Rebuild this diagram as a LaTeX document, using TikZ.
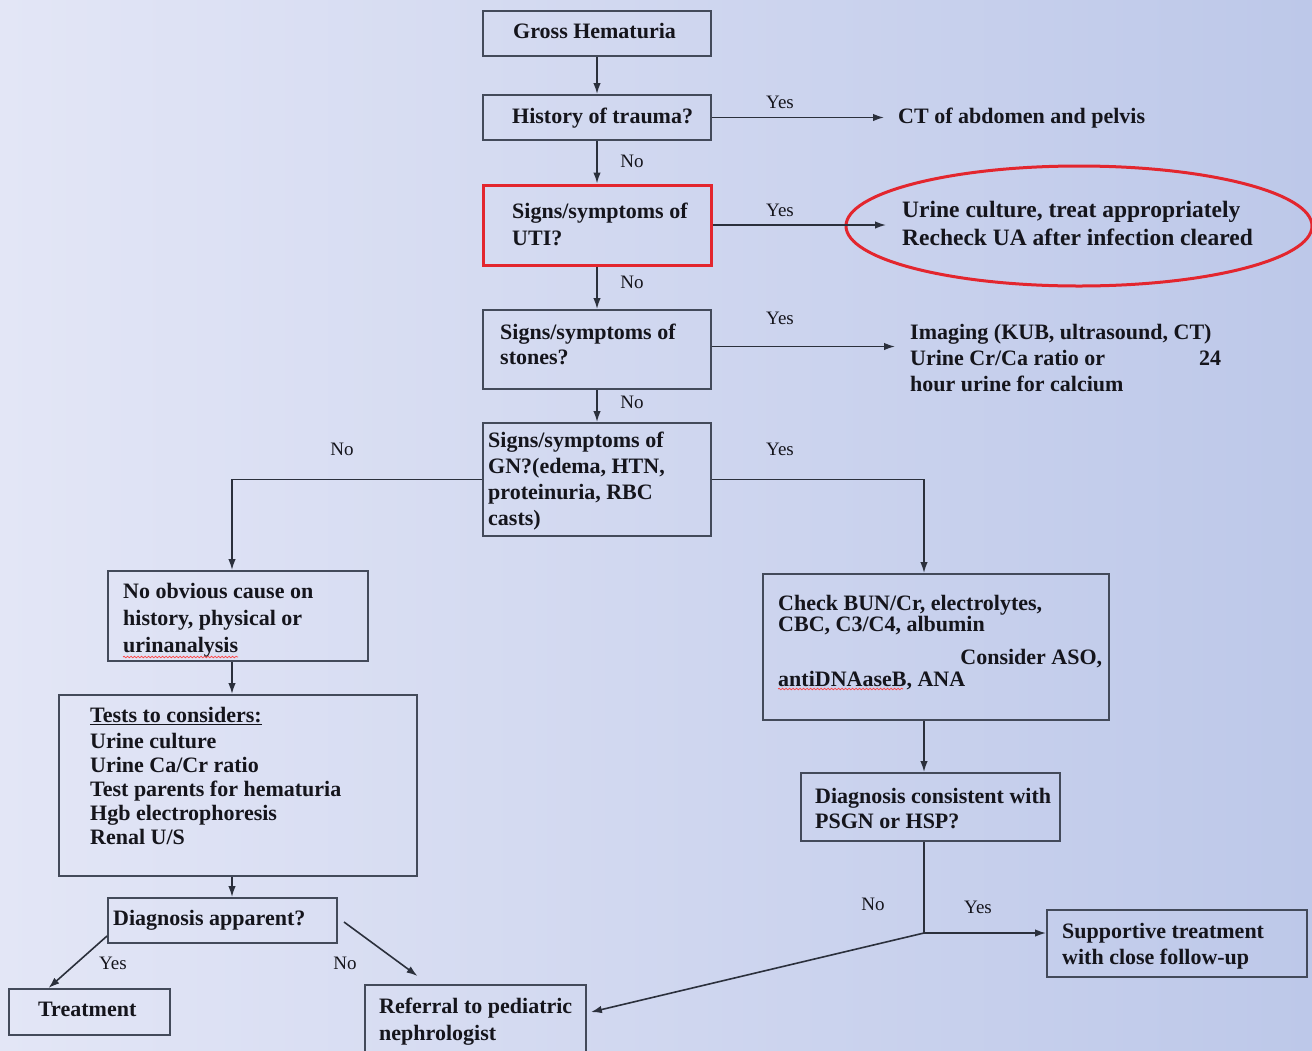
\documentclass[tikz,border=0pt]{standalone}
\usepackage{fontspec}
\setmainfont{Liberation Serif}
\usetikzlibrary{arrows.meta,shapes.geometric,fit,decorations.pathmorphing}
\definecolor{boxc}{HTML}{434A5A}
\definecolor{arrc}{HTML}{2B303C}
\definecolor{textc}{HTML}{15151C}
\definecolor{redc}{HTML}{E3262E}
\definecolor{bgl}{HTML}{E3E6F6}
\definecolor{bgr}{HTML}{BDC8E9}
\newcommand\bfs[1]{\fontsize{22}{#1}\selectfont\bfseries}
\begin{document}
\begin{tikzpicture}[x=1pt,y=-1pt,
  box/.style={draw=boxc, line width=2pt, inner sep=0pt},
  redbox/.style={draw=redc, line width=3pt, inner sep=0pt},
  txt/.style={anchor=north west, inner sep=0pt, font=\bfs{26}, text=textc, align=left},
  lbl/.style={font=\fontsize{19}{22}\selectfont, text=textc, inner sep=0pt},
  arr/.style={draw=arrc, line width=1.6pt, -{Latex[length=11pt,width=7.5pt]}},
  ln/.style={draw=arrc, line width=1.6pt},
  wavy/.style={draw=red!75, line width=0.7pt, decorate, decoration={snake, amplitude=0.8pt, segment length=3.5pt}}
]
\useasboundingbox (0,0) rectangle (1312,1050);
\shade[left color=bgl, right color=bgr] (0,0) rectangle (1312,1050);

% boxes
\node[box, fit={(483,11) (711,56)}] (gross) {};
\node[box, fit={(483,95) (711,140)}] (hist) {};
\node[redbox, fit={(483,185) (711,265)}] (uti) {};
\node[box, fit={(483,310) (711,389)}] (stones) {};
\node[box, fit={(483,423) (711,536)}] (gn) {};
\node[box, fit={(108,571) (368,661)}] (noobv) {};
\node[box, fit={(59,695) (417,876)}] (tests) {};
\node[box, fit={(108,898) (337,943)}] (diagA) {};
\node[box, fit={(9,989) (170,1035)}] (treat) {};
\node[box, fit={(365,985) (586,1056)}] (ref) {};
\node[box, fit={(763,574) (1109,720)}] (bun) {};
\node[box, fit={(801,773) (1060,841)}] (diagc) {};
\node[box, fit={(1047,910) (1307,977)}] (supp) {};
\node[draw=redc, line width=3pt, ellipse, minimum width=466pt, minimum height=120pt, inner sep=0pt] (uell) at (1079,226) {};

% texts
\node[txt] (tgross) at (513,23) {Gross Hematuria};
\node[txt] (thist) at (512,108) {History of trauma?};
\node[txt, font=\bfs{27}] (tuti) at (512,203) {Signs/symptoms of\\UTI?};
\node[txt, font=\bfs{25}] (tstones) at (500,324) {Signs/symptoms of\\stones?};
\node[txt, font=\bfs{26}] (tgn) at (488,432) {Signs/symptoms of\\GN?(edema, HTN,\\proteinuria, RBC\\casts)};
\node[txt, font=\bfs{27}] (tnoobv) at (123,583) {No obvious cause on\\history, physical or\\urinanalysis};
\node[txt, font=\bfs{24}] (ttests) at (90,707) {\underline{Tests to considers:}\\[2pt]Urine culture\\Urine Ca/Cr ratio\\Test parents for hematuria\\Hgb electrophoresis\\Renal U/S};
\node[txt] (tdiagA) at (113,910) {Diagnosis apparent?};
\node[txt] (ttreat) at (38,1002) {Treatment};
\node[txt, font=\bfs{27}] (tref) at (379,998) {Referral to pediatric\\nephrologist};
\node[txt, font=\bfs{20}] (tbun) at (778,595) {Check BUN/Cr, electrolytes,\\CBC, C3/C4, albumin\\[13pt]\makebox[324pt][r]{Consider ASO,}\\[2pt]antiDNAaseB, ANA};
\node[txt, font=\bfs{25}] (tdiagc) at (815,788) {Diagnosis consistent with\\PSGN or HSP?};
\node[txt, font=\bfs{26}] (tsupp) at (1062,923) {Supportive treatment\\with close follow-up};
\node[txt] (ct) at (898,108) {CT of abdomen and pelvis};
\node[txt, font=\fontsize{23.5}{28}\selectfont\bfseries] (urine) at (902,201) {Urine culture, treat appropriately\\Recheck UA after infection cleared};
\node[txt, font=\bfs{26}] (imaging) at (910,324) {Imaging (KUB, ultrasound, CT)\\\makebox[311pt][l]{Urine Cr/Ca ratio or\hfill 24}\\hour urine for calcium};

% spell-check squiggles
\draw[wavy] (123,657) -- (238,657);
\draw[wavy] (778,689) -- (903,689);

% labels
\node[lbl] at (780,102) {Yes};
\node[lbl] at (632,161) {No};
\node[lbl] at (780,210) {Yes};
\node[lbl] at (632,282) {No};
\node[lbl] at (780,318) {Yes};
\node[lbl] at (632,402) {No};
\node[lbl] at (342,449) {No};
\node[lbl] at (780,449) {Yes};
\node[lbl] at (113,963) {Yes};
\node[lbl] at (345,963) {No};
\node[lbl] at (873,904) {No};
\node[lbl] at (978,907) {Yes};

% connectors
\draw[arr] (gross) -- (hist);
\draw[arr] (hist) -- (uti);
\draw[arr] (uti) -- (stones);
\draw[arr] (stones) -- (gn);
\draw[arr, shorten >=14pt] (hist.east) -- (hist.east -| ct.west);
\draw[arr, shorten >=16pt] (uti.east) -- (uti.east -| urine.west);
\draw[arr, shorten >=15pt] ([yshift=3pt]stones.east) -- ([yshift=3pt]stones.east -| imaging.west);
\draw[arr] (gn.west) -| ([xshift=-6pt]noobv.north);
\draw[arr] (gn.east) -| ([xshift=-12pt]bun.north);
\draw[arr] ([xshift=-6pt]noobv.south) -- ([xshift=-6pt]noobv.south |- tests.north);
\draw[arr] ([xshift=-6pt]tests.south) -- ([xshift=-6pt]tests.south |- diagA.north);
\draw[arr] ([xshift=-12pt]bun.south) -- ([xshift=-12pt]bun.south |- diagc.north);
\coordinate (j) at (924,933);
\draw[ln] (diagc.south -| j) -- (j);
\draw[arr] (j) -- (j -| supp.west);
\draw[arr, shorten >=4pt] (j) -- ([yshift=7.5pt]ref.east);
\draw[arr] ([yshift=8pt]diagA.south west) -- ([xshift=-41pt]treat.north);
\draw[arr] ([xshift=6pt,yshift=-1.5pt]diagA.east) -- ([xshift=-58pt,yshift=8pt]ref.north);
\end{tikzpicture}
\end{document}
